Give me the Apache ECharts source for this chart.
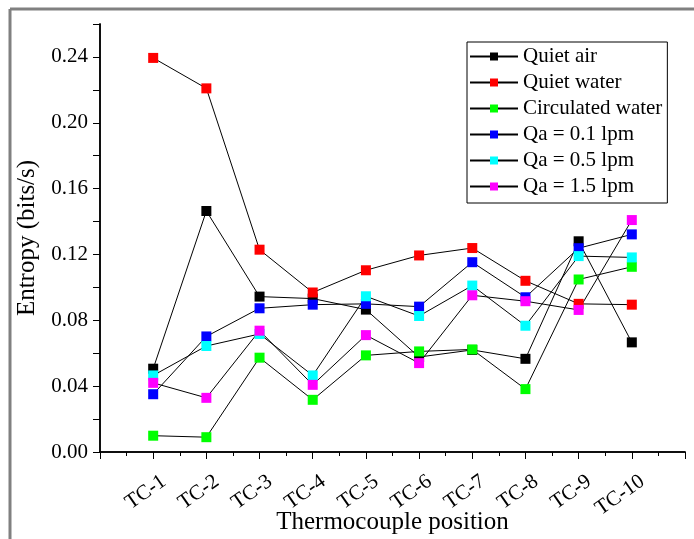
<!DOCTYPE html>
<html>
<head>
<meta charset="utf-8">
<script src="https://cdn.jsdelivr.net/npm/echarts@6/dist/echarts.min.js"></script>
<style>
  html, body { margin: 0; padding: 0; background: #fff; }
  #chart { width: 694px; height: 539px; }
</style>
</head>
<body>
<div id="chart"></div>
<script>
var positions = ['TC-1', 'TC-2', 'TC-3', 'TC-4', 'TC-5', 'TC-6', 'TC-7', 'TC-8', 'TC-9', 'TC-10'];
var seriesNames = ['Quiet air', 'Quiet water', 'Circulated water', 'Qa = 0.1 lpm', 'Qa = 0.5 lpm', 'Qa = 1.5 lpm'];
var seriesColors = ['#000000', '#ff0000', '#00ff00', '#0000ff', '#00ffff', '#ff00ff'];

var quietAir = [0.0506, 0.1464, 0.0944, 0.0932, 0.0865, 0.0577, 0.0620, 0.0566, 0.1280, 0.0666];
var quietWater = [0.2394, 0.2209, 0.1229, 0.0969, 0.1104, 0.1194, 0.1239, 0.1040, 0.0900, 0.0895];
var circulatedWater = [0.0099, 0.0090, 0.0573, 0.0317, 0.0587, 0.0611, 0.0623, 0.0382, 0.1048, 0.1125];
var qa01 = [0.0351, 0.0702, 0.0873, 0.0895, 0.0900, 0.0883, 0.1153, 0.0940, 0.1238, 0.1322];
var qa05 = [0.0465, 0.0644, 0.0717, 0.0465, 0.0946, 0.0826, 0.1011, 0.0767, 0.1190, 0.1182];
var qa15 = [0.0420, 0.0329, 0.0737, 0.0408, 0.0710, 0.0540, 0.0952, 0.0916, 0.0863, 0.1409];

var allValues = [quietAir, quietWater, circulatedWater, qa01, qa05, qa15];
var serif = '"Liberation Serif", "DejaVu Serif", serif';

// x positions 1..10 on a 0..11 value axis, so there is one step of room at each end
function toPairs(values) {
    return values.map(function (v, i) { return [i + 1, v]; });
}

var series = allValues.map(function (values, k) {
    return {
        name: seriesNames[k],
        type: 'line',
        symbol: 'rect',
        symbolSize: 10,
        itemStyle: { color: seriesColors[k] },
        lineStyle: { color: '#000', width: 1 },
        emphasis: { disabled: true },
        data: toPairs(values)
    };
});

var chart = echarts.init(document.getElementById('chart'));
chart.setOption({
    animation: false,
    backgroundColor: '#fff',
    graphic: [
        { type: 'line', shape: { x1: 10, y1: 9, x2: 10, y2: 539 }, style: { stroke: '#808080', lineWidth: 3 } },
        { type: 'line', shape: { x1: 10, y1: 9, x2: 694, y2: 9 }, style: { stroke: '#808080', lineWidth: 3 } }
    ],
    grid: { left: 100, top: 24, right: 9, bottom: 87, outerBoundsMode: 'none', containLabel: false },
    legend: {
        orient: 'vertical',
        left: 467,
        top: 42,
        padding: [4, 5, 6, 2],
        borderColor: '#000',
        borderWidth: 1,
        itemWidth: 48,
        itemHeight: 10,
        itemGap: 5,
        textStyle: { fontFamily: serif, fontSize: 21, color: '#000', lineHeight: 21 },
        data: seriesNames
    },
    xAxis: [{
        type: 'value',
        min: 0,
        max: 11,
        interval: 1,
        name: 'Thermocouple position',
        nameLocation: 'middle',
        nameGap: 58,
        nameMoveOverlap: false,
        nameTextStyle: { fontFamily: serif, fontSize: 25, color: '#000' },
        axisLine: { lineStyle: { color: '#000', width: 1.5 } },
        axisTick: { length: 7, lineStyle: { color: '#000' } },
        axisLabel: {
            rotate: 35,
            margin: 35,
            padding: [0, -13, 0, 0],
            fontFamily: serif,
            fontSize: 21,
            color: '#000',
            formatter: function (v) {
                return (v >= 1 && v <= positions.length) ? positions[v - 1] : '';
            }
        },
        splitLine: { show: false }
    }, {
        type: 'value',
        position: 'top',
        min: 0,
        max: 11,
        interval: 1,
        axisLine: { lineStyle: { color: '#000', width: 1.5 } },
        axisTick: { inside: true, length: 7, lineStyle: { color: '#000' } },
        minorTick: { show: true, splitNumber: 2, length: 4, lineStyle: { color: '#000' } },
        axisLabel: { show: false },
        splitLine: { show: false }
    }],
    yAxis: [{
        type: 'value',
        min: 0,
        max: 0.26,
        interval: 0.04,
        name: 'Entropy (bits/s)',
        nameLocation: 'middle',
        nameGap: 60,
        nameMoveOverlap: false,
        nameTextStyle: { fontFamily: serif, fontSize: 25, color: '#000' },
        axisLine: { show: true, lineStyle: { color: '#000', width: 1.5 } },
        axisTick: { show: true, length: 7, lineStyle: { color: '#000' } },
        minorTick: { show: true, splitNumber: 2, length: 7, lineStyle: { color: '#000' } },
        axisLabel: {
            margin: 12,
            fontFamily: serif,
            fontSize: 21,
            color: '#000',
            formatter: function (v) { return v > 0.25 ? '' : v.toFixed(2); }
        },
        splitLine: { show: false }
    }, {
        type: 'value',
        position: 'right',
        min: 0,
        max: 0.26,
        interval: 0.04,
        axisLine: { show: true, lineStyle: { color: '#000', width: 1.5 } },
        axisTick: { show: true, inside: true, length: 7, lineStyle: { color: '#000' } },
        minorTick: { show: true, splitNumber: 2, length: 7, lineStyle: { color: '#000' } },
        axisLabel: { show: false },
        splitLine: { show: false }
    }],
    series: series
});
</script>
</body>
</html>
